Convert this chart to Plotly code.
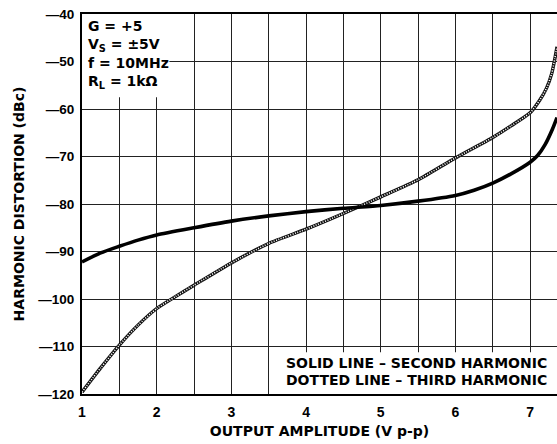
import plotly.graph_objects as go

# ---- data ----
x_second = [1.0, 1.25, 1.5, 1.75, 2.0, 2.5, 3.0, 3.5, 4.0, 4.5, 5.0, 5.5, 6.0, 6.25, 6.5, 6.75, 7.0, 7.1, 7.2, 7.3, 7.36]
y_second = [-92.2, -90.3, -88.9, -87.6, -86.5, -85.0, -83.6, -82.5, -81.6, -80.9, -80.3, -79.4, -78.2, -77.1, -75.6, -73.6, -71.2, -69.8, -67.5, -64.2, -61.8]

x_third = [1.0, 1.25, 1.5, 1.75, 2.0, 2.25, 2.5, 3.0, 3.5, 4.0, 4.5, 5.0, 5.5, 6.0, 6.5, 6.75, 7.0, 7.13, 7.22, 7.29, 7.33, 7.36]
y_third = [-119.6, -114.5, -109.7, -105.5, -102.0, -99.5, -97.1, -92.4, -88.3, -85.3, -82.0, -78.5, -74.9, -70.3, -66.0, -63.5, -60.8, -58.1, -55.6, -52.5, -49.5, -46.9]

x_tick_vals = [1, 2, 3, 4, 5, 6, 7]
x_tick_text = ["1", "2", "3", "4", "5", "6", "7"]
y_tick_vals = [-120, -110, -100, -90, -80, -70, -60, -50, -40]
y_tick_text = ["\u2014120", "\u2014110", "\u2014100", "\u201490", "\u201480", "\u201470", "\u201460", "\u201450", "\u201440"]

x_title = "OUTPUT AMPLITUDE (V p-p)"
y_title = "HARMONIC DISTORTION (dBc)"
cond_lines = ["G = +5", "V<sub>S</sub> = \u00b15V", "f = 10MHz", "R<sub>L</sub> = 1k\u03a9"]
key_lines = ["SOLID LINE \u2013 SECOND HARMONIC", "DOTTED LINE \u2013 THIRD HARMONIC"]

FONT = "Liberation Sans"
WIDE = "DejaVu Sans"

fig = go.Figure()
fig.add_trace(go.Scatter(x=x_third, y=y_third, mode="lines",
                         line=dict(color="#111", width=3.4, shape="spline", smoothing=0.6),
                         hoverinfo="skip", showlegend=False))
fig.add_trace(go.Scatter(x=x_third, y=y_third, mode="lines",
                         line=dict(color="#fff", width=1.6, shape="spline", smoothing=0.6, dash="1px,1.5px"),
                         hoverinfo="skip", showlegend=False))
fig.add_trace(go.Scatter(x=x_second, y=y_second, mode="lines",
                         line=dict(color="#000", width=3.6, shape="spline", smoothing=0.6),
                         hoverinfo="skip", showlegend=False))

# white boxes that hide grid under the text blocks
fig.add_shape(type="rect", xref="x", yref="y", x0=1, x1=2.17, y0=-57.5, y1=-40,
              fillcolor="white", line=dict(width=0), layer="between")
fig.add_shape(type="rect", xref="x", yref="y", x0=3.65, x1=7.5, y0=-120, y1=-111.2,
              fillcolor="white", line=dict(width=0), layer="between")

for i, t in enumerate(cond_lines):
    fig.add_annotation(x=0.008, xref="paper", y=-42.5 - i * 3.93, yref="y", text=t,
                       showarrow=False, xanchor="left", yanchor="middle",
                       font=dict(family=WIDE, size=14, color="#000", weight="bold"))
for i, t in enumerate(key_lines):
    fig.add_annotation(x=3.71, xref="x", y=-113.5 - i * 3.6, yref="y", text=t,
                       showarrow=False, xanchor="left", yanchor="middle",
                       font=dict(family=WIDE, size=14, color="#000", weight="bold"))

fig.update_layout(
    width=557, height=444,
    margin=dict(l=82, r=0, t=14, b=50),
    paper_bgcolor="white", plot_bgcolor="white",
    font=dict(family=FONT, size=13, color="#000", weight="bold"),
    showlegend=False,
)
fig.update_xaxes(range=[1, 7.36], tickvals=x_tick_vals, ticktext=x_tick_text,
                 showgrid=True, gridcolor="#222", gridwidth=1.4,
                 minor=dict(tick0=1, dtick=0.5, showgrid=True, gridcolor="#222", gridwidth=1.4, ticks=""),
                 showline=True, linecolor="#000", linewidth=2, mirror=True,
                 ticks="", ticklabelstandoff=4, zeroline=False,
                 tickfont=dict(family=FONT, size=14, weight="bold"),
                 title=dict(text=x_title, standoff=7, font=dict(family=WIDE, size=14, weight="bold")))
fig.update_yaxes(range=[-120, -40], tickvals=y_tick_vals, ticktext=y_tick_text,
                 showgrid=True, gridcolor="#222", gridwidth=1.4,
                 showline=True, linecolor="#000", linewidth=2, mirror=False,
                 ticks="", ticklabelstandoff=3, zeroline=False,
                 tickfont=dict(family=FONT, size=13.5, weight="bold"),
                 title=dict(text=y_title, standoff=10, font=dict(family=WIDE, size=14, weight="bold")))

fig.write_html("out.html", config={"displayModeBar": False},
               post_script="document.body.style.margin='0';document.body.style.overflow='hidden';")
